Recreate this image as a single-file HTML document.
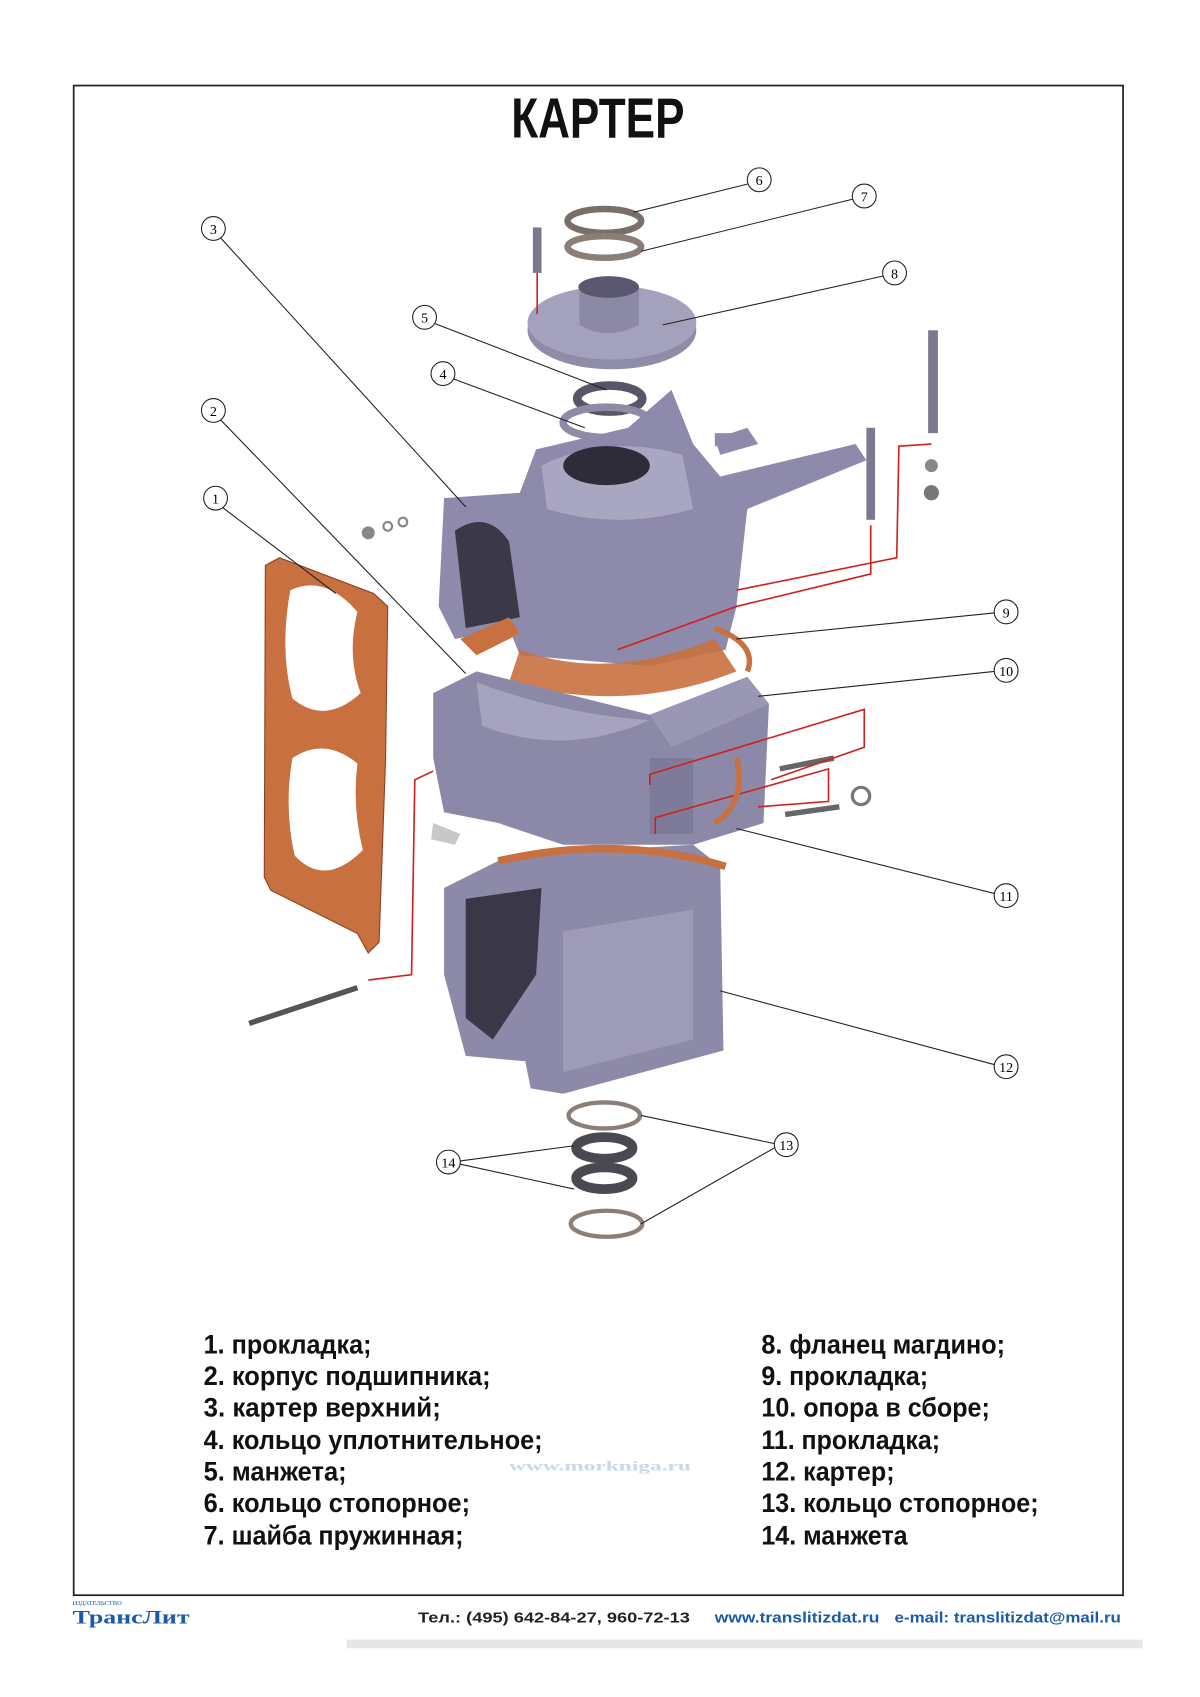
<!DOCTYPE html>
<html><head><meta charset="utf-8"><style>
html,body{margin:0;padding:0;background:#fff;}
svg{display:block;}
.lbl{font-family:"Liberation Serif",serif;font-size:13px;text-anchor:middle;}
.li{font-family:"Liberation Sans Narrow","Liberation Sans",sans-serif;font-weight:bold;font-size:25px;fill:#111;}
</style></head><body>
<svg width="1200" height="1697" viewBox="0 0 1108 1567" xmlns="http://www.w3.org/2000/svg">
<rect x="0" y="0" width="1108" height="1567" fill="#fff"/>
<rect x="68" y="79" width="969" height="1394" fill="none" stroke="#222" stroke-width="1.6"/>
<text x="552" y="127" text-anchor="middle" font-family="Liberation Sans Narrow,Liberation Sans,sans-serif" font-weight="bold" font-size="52" textLength="160" lengthAdjust="spacingAndGlyphs" fill="#111">КАРТЕР</text>

<!-- gasket 1 -->
<path d="M245 522 L258 515 L345 548 L358 560 L356 700 L350 870 L340 880 L330 862 L250 822 L244 810 Z" fill="#c8703f" stroke="#8a4020" stroke-width="1"/>
<path d="M268 545 Q300 530 330 565 Q320 605 333 640 Q300 670 270 645 Q258 600 268 545Z" fill="#fff"/>
<path d="M270 700 Q300 680 330 705 Q325 745 335 785 Q300 820 272 790 Q262 745 270 700Z" fill="#fff"/>

<!-- flange 8 and rings 6,7 -->
<ellipse cx="558" cy="204" rx="34" ry="11" fill="none" stroke="#7a6e68" stroke-width="6"/>
<ellipse cx="558" cy="228" rx="34" ry="10" fill="none" stroke="#8a7e78" stroke-width="6"/>
<ellipse cx="565" cy="305" rx="78" ry="36" fill="#8f8ca8"/>
<ellipse cx="565" cy="298" rx="78" ry="34" fill="#a4a1bd"/>
<path d="M535 265 L535 300 Q560 315 590 300 L590 265Z" fill="#8c89a6"/>
<ellipse cx="562" cy="265" rx="28" ry="10" fill="#5a5770"/>
<rect x="492" y="210" width="8" height="42" fill="#7a7890"/>
<line x1="496" y1="252" x2="496" y2="290" stroke="#d02020" stroke-width="1.5"/>
<ellipse cx="563" cy="368" rx="30" ry="12" fill="none" stroke="#5a5566" stroke-width="8"/>
<ellipse cx="560" cy="390" rx="40" ry="14" fill="none" stroke="#8e8ba6" stroke-width="7"/>

<!-- upper casing 3 -->
<path d="M410 460 L480 455 L495 415 L580 395 L620 360 L640 410 L665 440 L790 410 L800 425 L690 470 L680 560 L670 600 L600 615 L480 605 L470 580 L420 590 L405 560 Z" fill="#8e8aab"/>
<path d="M500 430 Q560 400 630 420 L640 470 Q570 490 505 470Z" fill="#a9a6c2"/>
<ellipse cx="560" cy="430" rx="40" ry="18" fill="#2e2c38"/>
<path d="M420 490 Q450 470 470 500 L480 570 L430 580 Z" fill="#3b3948"/>
<path d="M425 590 L470 570 L480 585 L440 605 Z" fill="#c8703f"/>
<rect x="660" y="400" width="30" height="12" fill="#8e8aab"/>
<path d="M480 600 Q560 630 660 590 L680 620 Q580 660 470 630Z" fill="#c8703f" opacity="0.9"/>

<!-- middle bearing housing 2 -->
<path d="M400 640 L440 620 L520 640 L600 660 L690 625 L710 650 L705 760 L640 780 L520 780 L460 760 L410 750 L400 700Z" fill="#8b88a8"/>
<path d="M440 630 Q520 660 600 665 Q520 700 445 670Z" fill="#a6a3c0"/>
<path d="M600 660 L690 625 L710 650 L620 690Z" fill="#9a97b4"/>
<rect x="600" y="700" width="40" height="70" fill="#7d7a9a"/>
<path d="M400 760 L425 770 L420 780 L398 775Z" fill="#c8c8c8"/>

<!-- lower casing 12 -->
<path d="M470 790 L640 780 L665 800 L668 970 L520 1010 L490 1005 L485 980 L430 975 L410 900 L410 820Z" fill="#8d8aa9"/>
<path d="M460 795 Q570 770 670 800" fill="none" stroke="#c8703f" stroke-width="7"/>
<path d="M430 830 L500 820 L495 900 L455 960 L430 940Z" fill="#3a3848"/>
<path d="M520 860 L640 840 L640 960 L520 990Z" fill="#9e9bb8"/>

<!-- misc bolts -->
<line x1="230" y1="945" x2="330" y2="912" stroke="#555" stroke-width="5"/>
<polyline points="340,905 380,900 383,720 400,712" fill="none" stroke="#d02020" stroke-width="1.5"/>
<rect x="800" y="395" width="8" height="85" fill="#7b7890"/>
<rect x="857" y="305" width="9" height="95" fill="#7b7890"/>
<circle cx="860" cy="430" r="6" fill="#888"/><circle cx="860" cy="455" r="7" fill="#777"/>
<polyline points="804,485 804,530 680,560 570,600" fill="none" stroke="#d02020" stroke-width="1.5"/>
<polyline points="860,410 830,412 828,515 680,545" fill="none" stroke="#d02020" stroke-width="1.5"/>
<line x1="720" y1="710" x2="770" y2="700" stroke="#666" stroke-width="5"/>
<line x1="725" y1="752" x2="775" y2="745" stroke="#666" stroke-width="5"/>
<circle cx="795" cy="735" r="8" fill="none" stroke="#777" stroke-width="3"/>
<polyline points="600,725 600,715 798,655 798,690 712,720" fill="none" stroke="#d02020" stroke-width="1.5"/>
<polyline points="605,770 605,755 765,710 765,740 700,745" fill="none" stroke="#d02020" stroke-width="1.5"/>
<path d="M660 405 L690 395 L700 410 L665 420Z" fill="#8e8aab"/>
<circle cx="340" cy="492" r="6" fill="#888"/><circle cx="358" cy="486" r="4" fill="none" stroke="#888" stroke-width="2"/><circle cx="372" cy="482" r="4" fill="none" stroke="#888" stroke-width="2"/>
<path d="M660 760 Q690 740 680 700" fill="none" stroke="#c8703f" stroke-width="5"/>
<path d="M660 580 Q700 595 690 620" fill="none" stroke="#c8703f" stroke-width="5"/>

<!-- bottom rings -->
<ellipse cx="558" cy="1030" rx="33" ry="12" fill="none" stroke="#8a7e78" stroke-width="4"/>
<ellipse cx="558" cy="1060" rx="26" ry="10" fill="none" stroke="#4a4850" stroke-width="9"/>
<ellipse cx="558" cy="1088" rx="26" ry="10" fill="none" stroke="#4a4850" stroke-width="9"/>
<ellipse cx="560" cy="1130" rx="33" ry="12" fill="none" stroke="#8a7e78" stroke-width="4"/>

<!-- leader lines -->
<g stroke="#222" stroke-width="1" fill="none">
<line x1="690" y1="170" x2="585" y2="196"/>
<line x1="787" y1="184" x2="592" y2="232"/>
<line x1="815" y1="255" x2="612" y2="300"/>
<line x1="204" y1="220" x2="430" y2="468"/>
<line x1="402" y1="299" x2="560" y2="360"/>
<line x1="419" y1="350" x2="540" y2="395"/>
<line x1="204" y1="388" x2="430" y2="622"/>
<line x1="206" y1="469" x2="310" y2="548"/>
<line x1="918" y1="566" x2="680" y2="590"/>
<line x1="918" y1="620" x2="700" y2="643"/>
<line x1="918" y1="825" x2="680" y2="765"/>
<line x1="918" y1="983" x2="665" y2="915"/>
<line x1="715" y1="1056" x2="592" y2="1030"/>
<line x1="715" y1="1060" x2="592" y2="1130"/>
<line x1="425" y1="1072" x2="530" y2="1058"/>
<line x1="425" y1="1075" x2="530" y2="1098"/>
</g>
<g fill="#fff" stroke="#222" stroke-width="1">
<circle cx="701" cy="166" r="11"/><circle cx="798" cy="181" r="11"/><circle cx="826" cy="252" r="11"/>
<circle cx="197" cy="211" r="11"/><circle cx="392" cy="293" r="11"/><circle cx="409" cy="345" r="11"/>
<circle cx="197" cy="379" r="11"/><circle cx="199" cy="460" r="11"/><circle cx="929" cy="565" r="11"/>
<circle cx="929" cy="619" r="11"/><circle cx="929" cy="827" r="11"/><circle cx="929" cy="985" r="11"/>
<circle cx="726" cy="1057" r="11"/><circle cx="414" cy="1073" r="11"/>
</g>
<g class="lbl">
<text x="701" y="171">6</text><text x="798" y="186">7</text><text x="826" y="257">8</text>
<text x="197" y="216">3</text><text x="392" y="298">5</text><text x="409" y="350">4</text>
<text x="197" y="384">2</text><text x="199" y="465">1</text><text x="929" y="570">9</text>
<text x="929" y="624">10</text><text x="929" y="832">11</text><text x="929" y="990">12</text>
<text x="726" y="1062">13</text><text x="414" y="1078">14</text>
</g>

<!-- list -->
<g class="li">
<text x="188" y="1250" textLength="155" lengthAdjust="spacingAndGlyphs">1. прокладка;</text>
<text x="188" y="1279" textLength="265" lengthAdjust="spacingAndGlyphs">2. корпус подшипника;</text>
<text x="188" y="1308" textLength="219" lengthAdjust="spacingAndGlyphs">3. картер верхний;</text>
<text x="188" y="1338" textLength="313" lengthAdjust="spacingAndGlyphs">4. кольцо уплотнительное;</text>
<text x="188" y="1367" textLength="132" lengthAdjust="spacingAndGlyphs">5. манжета;</text>
<text x="188" y="1396" textLength="246" lengthAdjust="spacingAndGlyphs">6. кольцо стопорное;</text>
<text x="188" y="1426" textLength="240" lengthAdjust="spacingAndGlyphs">7. шайба пружинная;</text>
<text x="703" y="1250" textLength="225" lengthAdjust="spacingAndGlyphs">8. фланец магдино;</text>
<text x="703" y="1279" textLength="154" lengthAdjust="spacingAndGlyphs">9. прокладка;</text>
<text x="703" y="1308" textLength="211" lengthAdjust="spacingAndGlyphs">10. опора в сборе;</text>
<text x="703" y="1338" textLength="165" lengthAdjust="spacingAndGlyphs">11. прокладка;</text>
<text x="703" y="1367" textLength="123" lengthAdjust="spacingAndGlyphs">12. картер;</text>
<text x="703" y="1396" textLength="256" lengthAdjust="spacingAndGlyphs">13. кольцо стопорное;</text>
<text x="703" y="1426" textLength="135" lengthAdjust="spacingAndGlyphs">14. манжета</text>
</g>
<text x="470" y="1358" font-family="Liberation Serif,serif" font-weight="bold" font-size="13" fill="#c8d8e8" textLength="168" lengthAdjust="spacingAndGlyphs">www.morkniga.ru</text>

<!-- footer -->
<text x="67" y="1482" font-family="Liberation Serif,serif" font-size="6" fill="#1a5aa8">ИЗДАТЕЛЬСТВО</text>
<text x="67" y="1499" font-family="Liberation Serif,serif" font-weight="bold" font-size="18" fill="#1a5aa8" textLength="108" lengthAdjust="spacingAndGlyphs">ТрансЛит</text>
<text x="386" y="1498" font-family="Liberation Sans Narrow,Liberation Sans,sans-serif" font-weight="bold" font-size="14" fill="#222" textLength="251" lengthAdjust="spacingAndGlyphs">Тел.: (495) 642-84-27, 960-72-13</text>
<text x="660" y="1498" font-family="Liberation Sans Narrow,Liberation Sans,sans-serif" font-weight="bold" font-size="14" fill="#1a5aa8" textLength="152" lengthAdjust="spacingAndGlyphs">www.translitizdat.ru</text>
<text x="826" y="1498" font-family="Liberation Sans Narrow,Liberation Sans,sans-serif" font-weight="bold" font-size="14" fill="#1a5aa8" textLength="209" lengthAdjust="spacingAndGlyphs">e-mail: translitizdat@mail.ru</text>
<rect x="320" y="1514" width="735" height="8" fill="#e6e6e6"/>
</svg>
</body></html>
